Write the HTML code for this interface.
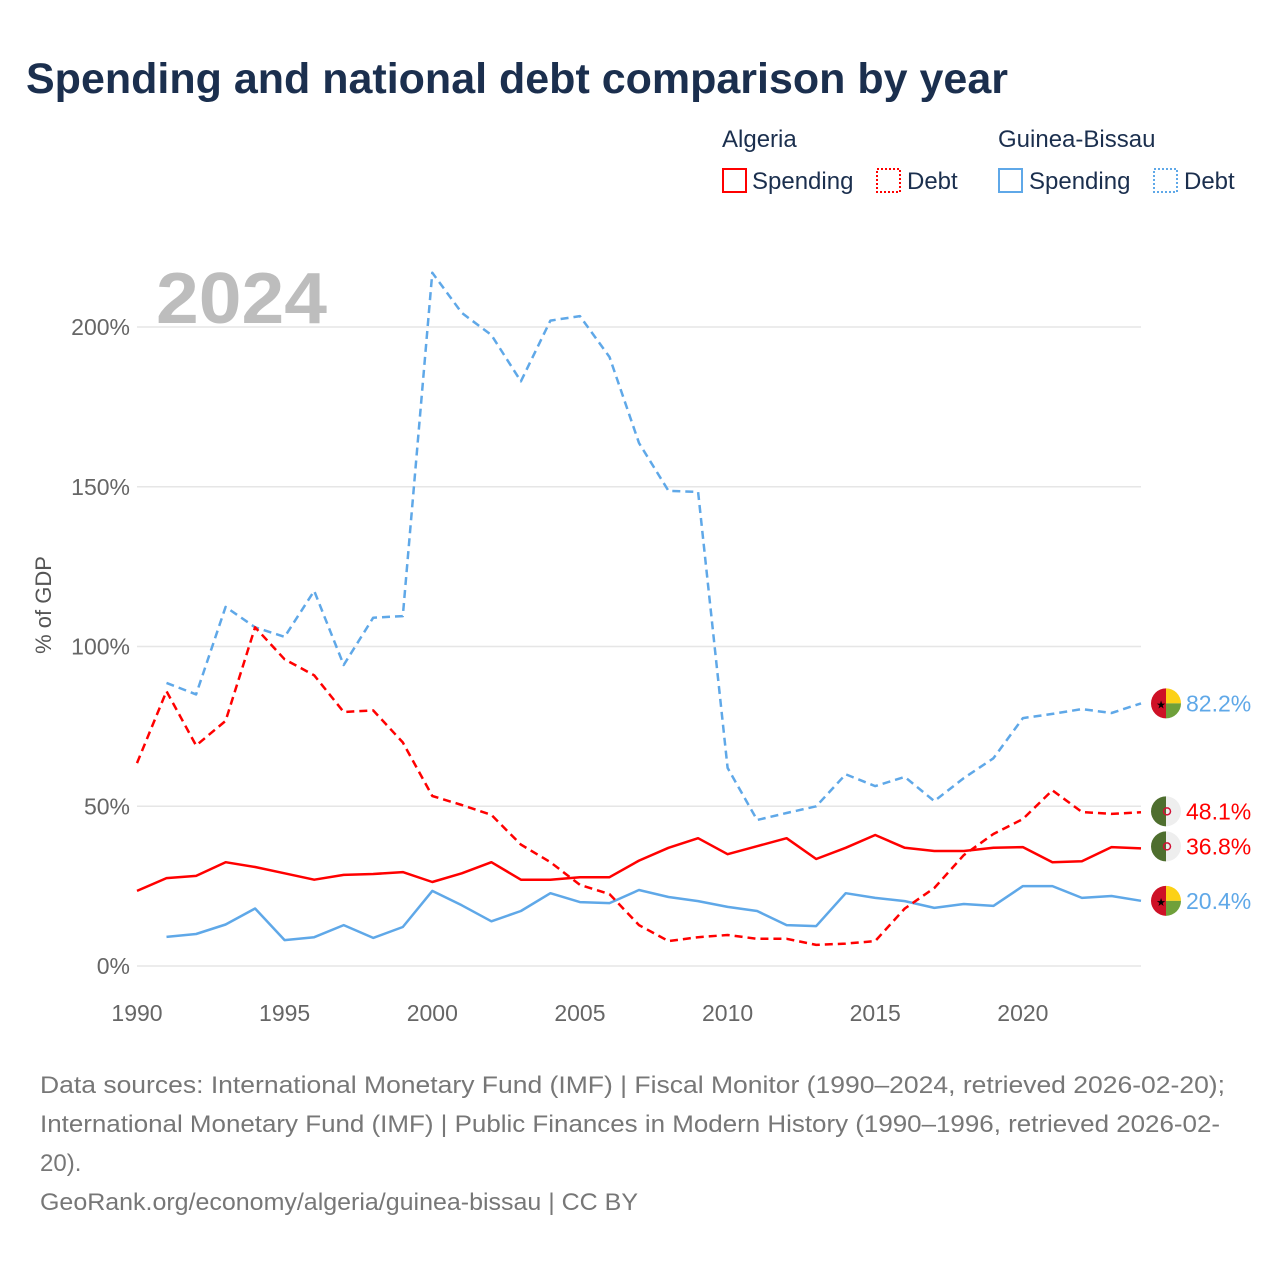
<!DOCTYPE html>
<html><head><meta charset="utf-8"><style>
body{margin:0;background:#fff;font-family:"Liberation Sans",sans-serif;}
#wrap{position:relative;width:1280px;height:1280px;overflow:hidden;}
</style></head><body>
<div id="wrap">
<svg id="chart" width="1280" height="1280">
<text x="26" y="93" font-size="43" font-weight="bold" fill="#1b2f4e">Spending and national debt comparison by year</text>
<g font-size="24" fill="#1b2f4e">
<text x="722" y="147">Algeria</text>
<text x="998" y="147">Guinea-Bissau</text>
<g><rect x="723" y="169" width="23" height="23" fill="none" stroke="#ff0000" stroke-width="2"/><text x="752" y="189">Spending</text></g>
<g><rect x="877" y="169" width="23" height="23" fill="none" stroke="#ff0000" stroke-width="2" stroke-dasharray="2,2"/><text x="907" y="189">Debt</text></g>
<g><rect x="999" y="169" width="23" height="23" fill="none" stroke="#5fa8e8" stroke-width="2"/><text x="1029" y="189">Spending</text></g>
<g><rect x="1154" y="169" width="23" height="23" fill="none" stroke="#5fa8e8" stroke-width="2" stroke-dasharray="2,2"/><text x="1184" y="189">Debt</text></g>
</g>
<text x="156" y="323" font-size="72" font-weight="bold" fill="#bdbdbd" textLength="171" lengthAdjust="spacingAndGlyphs">2024</text>
<text transform="translate(51,605) rotate(-90)" text-anchor="middle" font-size="22" fill="#555">% of GDP</text>
<g id="grid"></g><g id="xt"></g><g id="lines"></g><g id="ends"></g>
<g font-size="24" fill="#777">
<text x="40" y="1093" textLength="1185" lengthAdjust="spacingAndGlyphs">Data sources: International Monetary Fund (IMF) | Fiscal Monitor (1990–2024, retrieved 2026-02-20);</text>
<text x="40" y="1132" textLength="1180" lengthAdjust="spacingAndGlyphs">International Monetary Fund (IMF) | Public Finances in Modern History (1990–1996, retrieved 2026-02-</text>
<text x="40" y="1171">20).</text>
<text x="40" y="1210" textLength="598" lengthAdjust="spacingAndGlyphs">GeoRank.org/economy/algeria/guinea-bissau | CC BY</text>
</g>
</svg>
</div>
<script>
const yearsAlg = [1990,1991,1992,1993,1994,1995,1996,1997,1998,1999,2000,2001,2002,2003,2004,2005,2006,2007,2008,2009,2010,2011,2012,2013,2014,2015,2016,2017,2018,2019,2020,2021,2022,2023,2024];
const algSpending = [23.5,27.5,28.2,32.5,31,29,27,28.5,28.8,29.4,26.3,29,32.5,27,27,27.8,27.8,33,37,40,35,37.5,40,33.5,37,41,37,36,36,37,37.2,32.5,32.8,37.2,36.8];
const algDebt = [63.5,86,69,76.7,106,96,91,79.5,80,70,53.2,50.4,47.3,38,32.5,25.4,22.5,12.8,7.8,9,9.7,8.5,8.5,6.6,7,7.8,18,24.4,34.7,41.3,46,55,48.2,47.6,48.1];
const yearsGb = [1991,1992,1993,1994,1995,1996,1997,1998,1999,2000,2001,2002,2003,2004,2005,2006,2007,2008,2009,2010,2011,2012,2013,2014,2015,2016,2017,2018,2019,2020,2021,2022,2023,2024];
const gbSpending = [9.1,10,13,18,8.1,9,12.8,8.8,12.2,23.5,19,14,17.2,22.8,20,19.7,23.8,21.6,20.3,18.5,17.2,12.8,12.5,22.8,21.3,20.3,18.2,19.4,18.8,25,25,21.3,21.9,20.4];
const gbDebt = [88.6,85,112.4,106,103,117.4,94.2,109,109.5,217,204.4,197.5,183,202,203.4,190.6,163.7,148.7,148.4,62,45.7,47.9,50,60,56.3,59.2,51.6,58.8,65,77.6,78.9,80.4,79.2,82.2];
const yTicks = [0,50,100,150,200];
const xTicks = [1990,1995,2000,2005,2010,2015,2020];

const NS="http://www.w3.org/2000/svg";
const X=y=>137+(y-1990)*(1141-137)/34;
const Y=v=>966-v*(966-327)/200;
function mk(t,a,p){const e=document.createElementNS(NS,t);for(const k in a)e.setAttribute(k,a[k]);p.appendChild(e);return e;}
const grid=document.getElementById('grid');
yTicks.forEach(v=>{
 const l=mk('line',{x1:137,x2:1141,y1:Y(v),y2:Y(v),stroke:'#e6e6e6','stroke-width':1.5},grid);
 
 
 const t=mk('text',{x:130,y:Y(v)+8,'text-anchor':'end','font-size':23,fill:'#666'},grid);
 t.textContent=v+'%';
 
 
});
const xt=document.getElementById('xt');
xTicks.forEach(v=>{
 const t=mk('text',{x:X(v),y:1021,'text-anchor':'middle','font-size':23,fill:'#666'},xt);
 t.textContent=v;
 
 
});
const lines=document.getElementById('lines');
function line(xs,vs,col,dash,name){
 const d=vs.map((v,i)=>(i?'L':'M')+X(xs[i]).toFixed(1)+','+Y(v).toFixed(1)).join(' ');
 const p=mk('path',{d:d,fill:'none',stroke:col,'stroke-width':2.5,'stroke-linejoin':'round'},lines);
 if(dash)p.setAttribute('stroke-dasharray','8,5');
 
 
}
line(yearsGb,gbSpending,'#5fa8e8',false,'line-gb-spending');
line(yearsAlg,algSpending,'#ff0000',false,'line-algeria-spending');
line(yearsGb,gbDebt,'#5fa8e8',true,'line-gb-debt');
line(yearsAlg,algDebt,'#ff0000',true,'line-algeria-debt');
const ends=document.getElementById('ends');
function endLabel(v,col,flag,name,dy){
 const y=Y(v)+(dy||0),cx=1166,g=mk('g',{},ends);
 
 
 if(flag==='gb'){
  mk('path',{d:`M${cx},${y-15} A15,15 0 0,0 ${cx},${y+15} Z`,fill:'#ce1126'},g);
  mk('path',{d:`M${cx},${y-15} A15,15 0 0,1 ${cx+15},${y} L${cx},${y} Z`,fill:'#fcd116'},g);
  mk('path',{d:`M${cx},${y} L${cx+15},${y} A15,15 0 0,1 ${cx},${y+15} Z`,fill:'#6fa03a'},g);
  const s=mk('text',{x:cx-5,y:y+5,'font-size':11,fill:'#000','text-anchor':'middle'},g);s.textContent='★';
 }else{
  mk('path',{d:`M${cx},${y-15} A15,15 0 0,0 ${cx},${y+15} Z`,fill:'#4e6e2e'},g);
  mk('path',{d:`M${cx},${y-15} A15,15 0 0,1 ${cx},${y+15} Z`,fill:'#eeeeee'},g);
  mk('circle',{cx:cx+1,cy:y,r:3.5,fill:'none',stroke:'#d21034','stroke-width':1.5},g);
 }
 const t=mk('text',{x:1186,y:y+8,'font-size':23,fill:col},g);
 t.textContent=v.toFixed(1)+'%';
}
endLabel(gbDebt[gbDebt.length-1],'#5fa8e8','gb','end-label-gb-debt');
endLabel(algDebt[algDebt.length-1],'#ff0000','alg','end-label-algeria-debt',-1);
endLabel(algSpending[algSpending.length-1],'#ff0000','alg','end-label-algeria-spending',-2);
endLabel(gbSpending[gbSpending.length-1],'#5fa8e8','gb','end-label-gb-spending');
</script>
</body></html>
